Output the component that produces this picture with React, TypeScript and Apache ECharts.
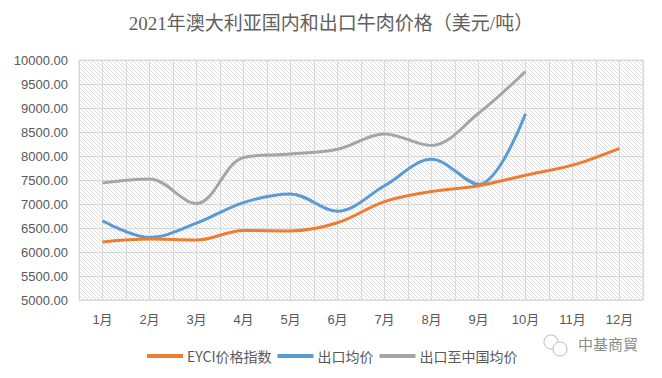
import React, { useEffect, useRef } from "react";
import * as echarts from "echarts";

const months = ["1月", "2月", "3月", "4月", "5月", "6月", "7月", "8月", "9月", "10月", "11月", "12月"];
const eyci = [6210, 6270, 6250, 6450, 6440, 6610, 7050, 7260, 7380, 7600, 7810, 8160];
const exportAvg = [6650, 6300, 6600, 7030, 7210, 6850, 7380, 7930, 7410, 8880, null, null];
const exportChina = [7440, 7520, 7010, 7970, 8040, 8140, 8460, 8220, 8890, 9760, null, null];
const seriesNames = ["EYCI价格指数", "出口均价", "出口至中国均价"];
const seriesColors = ["#ED7D31", "#5B9BD5", "#A5A5A5"];

function makePattern(): string {
  const c = document.createElement("canvas");
  c.width = 4;
  c.height = 4;
  const ctx = c.getContext("2d")!;
  ctx.fillStyle = "#ffffff";
  ctx.fillRect(0, 0, 4, 4);
  ctx.fillStyle = "#dcdcdc";
  for (let i = 0; i < 4; i++) {
    ctx.fillRect(i, i, 1, 1);
  }
  return c.toDataURL();
}

export default function App() {
  const ref = useRef<HTMLDivElement>(null);
  useEffect(() => {
    if (!ref.current) return;
    const chart = echarts.init(ref.current, null, { renderer: "svg" });
    const pattern = makePattern();
    const data = [eyci, exportAvg, exportChina];
    chart.setOption({
      animation: false,
      backgroundColor: "#ffffff",
      title: {
        text: "2021年澳大利亚国内和出口牛肉价格（美元/吨）",
        left: "center",
        top: 9,
        textStyle: {
          fontFamily: "'Liberation Serif', 'Noto Sans CJK SC', serif",
          fontSize: 19,
          fontWeight: "normal",
          color: "#5f5f5f",
        },
      },
      legend: {
        data: seriesNames,
        left: 142,
        top: 344,
        itemWidth: 36,
        itemHeight: 4,
        itemGap: 6,
        icon: "rect",
        textStyle: {
          fontFamily: "'Noto Sans CJK SC', sans-serif",
          fontSize: 14,
          color: "#595959",
          padding: [0, 0, 0, -1],
        },
      },
      grid: {
        left: 79,
        right: 19,
        top: 60,
        bottom: 78,
        show: true,
        backgroundColor: { image: pattern, repeat: "repeat", imageWidth: 4, imageHeight: 4 },
        borderColor: "#d9d9d9",
        borderWidth: 1,
      },
      xAxis: [
        {
          type: "category",
          data: months,
          boundaryGap: true,
          axisLine: { show: false },
          axisTick: { show: false },
          splitLine: { show: false },
          axisLabel: {
            fontFamily: "'Liberation Sans', 'Noto Sans CJK SC', sans-serif",
            fontSize: 13,
            color: "#595959",
            margin: 13,
          },
        },
        {
          type: "value",
          min: 0,
          max: 24,
          interval: 1,
          position: "bottom",
          axisLine: { show: false },
          axisTick: { show: false },
          axisLabel: { show: false },
          splitLine: { show: true, lineStyle: { color: "#d9d9d9", width: 1 } },
        },
      ],
      yAxis: {
        type: "value",
        min: 5000,
        max: 10000,
        interval: 500,
        axisLine: { show: false },
        axisTick: { show: false },
        splitLine: { show: true, lineStyle: { color: "#d9d9d9", width: 1 } },
        axisLabel: {
          formatter: (v: number) => v.toFixed(2),
          fontFamily: "'Liberation Sans', sans-serif",
          fontSize: 13,
          color: "#595959",
          margin: 11,
        },
      },
      series: seriesNames.map((name, i) => ({
        name,
        type: "line",
        xAxisIndex: 0,
        data: data[i],
        smooth: 0.35,
        showSymbol: false,
        symbol: "none",
        connectNulls: false,
        lineStyle: { color: seriesColors[i], width: 3 },
        itemStyle: { color: seriesColors[i] },
        z: 3 - i + 2,
      })),
      graphic: [
        {
          type: "circle",
          shape: { cx: 551, cy: 342, r: 7 },
          style: { fill: "none", stroke: "#bbbbbb", lineWidth: 1 },
        },
        {
          type: "circle",
          shape: { cx: 560, cy: 349, r: 7 },
          style: { fill: "#ffffff", stroke: "#bbbbbb", lineWidth: 1 },
        },
        {
          type: "text",
          left: 578,
          top: 336,
          style: {
            text: "中基商貿",
            fontFamily: "'Noto Sans CJK TC', 'Noto Sans CJK SC', sans-serif",
            fontSize: 15,
            fill: "#8c8c8c",
          },
        },
      ],
    });
    return () => chart.dispose();
  }, []);
  return <div ref={ref} style={{ width: 662, height: 378, marginLeft: -8, marginTop: -8 }} />;
}
